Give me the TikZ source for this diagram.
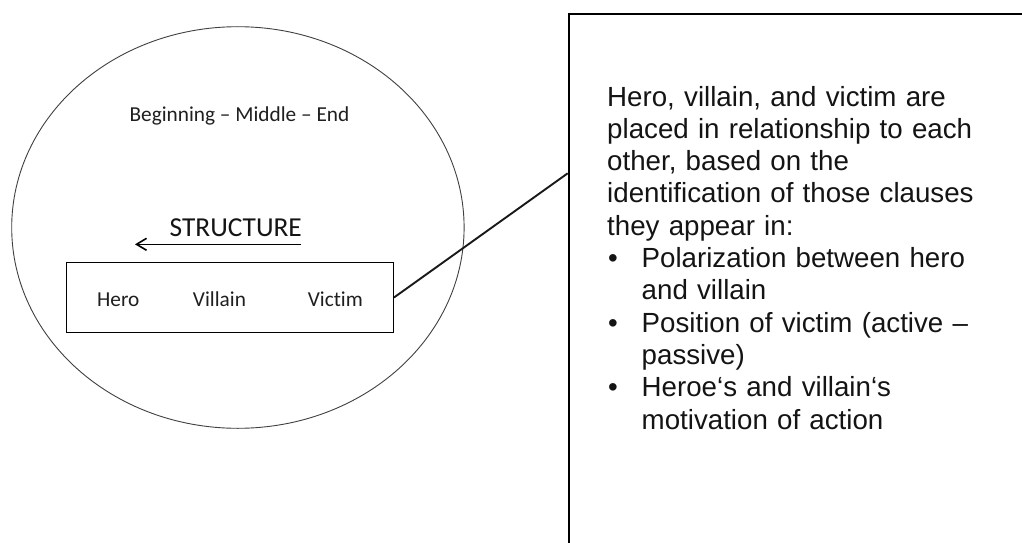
\documentclass[tikz,border=0pt]{standalone}
\usepackage{fontspec}
\newfontfamily\calibfont[Ligatures=NoCommon]{Carlito}
\newfontfamily\arialfont{Liberation Sans}
\usetikzlibrary{shapes.geometric,arrows.meta}

\tikzset{
  storyring/.style={draw=black!75, line width=0.9pt, ellipse, inner sep=0pt},
  rolebox/.style={draw=black, line width=1.4pt, rectangle, inner sep=0pt},
  notebox/.style={draw=black, line width=2pt, rectangle, inner sep=0pt},
  smalllabel/.style={font=\calibfont\fontsize{21.3}{25}\selectfont, inner sep=0pt, text=black!88},
  biglabel/.style={font=\calibfont\fontsize{27.4}{32}\selectfont, inner sep=0pt, text=black!92},
  link/.style={line width=1.9pt, draw=black!90},
}
\newcommand{\itembullet}{\makebox[34.5pt][l]{\hspace{1pt}\textbullet}}
\newcommand{\itemgap}{\hspace*{34.5pt}}

\begin{document}
\begin{tikzpicture}[x=1pt, y=-1pt]
  \useasboundingbox (0,0) rectangle (1022,543);
  \fill[white] (0,0) rectangle (1022,543);
  \clip (0,0) rectangle (1022,543);

  % story outline
  \node[storyring, minimum width=452.4pt, minimum height=401.6pt] (story) at (237.9,227.5) {};

  \node[smalllabel, anchor=base] (bme) at (239.5,121.7) {Beginning – Middle – End};

  % structure arrow and its caption
  \node[biglabel, anchor=base] (structure) at (235.8,236) {STRUCTURE};
  \coordinate (arrstart) at (301,244.3);
  \coordinate (arrend) at (135,244.3);
  \draw[line width=1.6pt, -{Straight Barb[length=10pt,width=12pt,line width=1.6pt]}] (arrstart) -- (arrend);

  % roles box
  \node[rolebox, minimum width=326.6pt, minimum height=69.6pt] (roles) at (230,297.5) {};
  \node[smalllabel, anchor=base] (hero) at (118.3,306) {Hero};
  \node[smalllabel, anchor=base] (villain) at (219.5,306) {Villain};
  \node[smalllabel, anchor=base] (victim) at (335.3,306) {Victim};

  % explanation panel
  \node[notebox, anchor=north west, minimum width=480pt, minimum height=560pt] (notes) at (567.7,12.7) {};
  \coordinate (hook) at (567.7,173.3);
  \draw[link] (roles.east) -- (hook);

  \node[anchor=base west, inner sep=0pt, text width=410pt, align=left,
        font=\arialfont\fontsize{27.7}{32.3}\selectfont, text=black!92] (notetext) at (607,106)
  {Hero, villain, and victim are\\
   placed in relationship to each\\
   other, based on the\\
   identification of those clauses\\
   they appear in:\\
   \itembullet Polarization between hero\\
   \itemgap and villain\\
   \itembullet Position of victim (active –\\
   \itemgap passive)\\
   \itembullet Heroe‘s and villain‘s\\
   \itemgap motivation of action};
\end{tikzpicture}
\end{document}
